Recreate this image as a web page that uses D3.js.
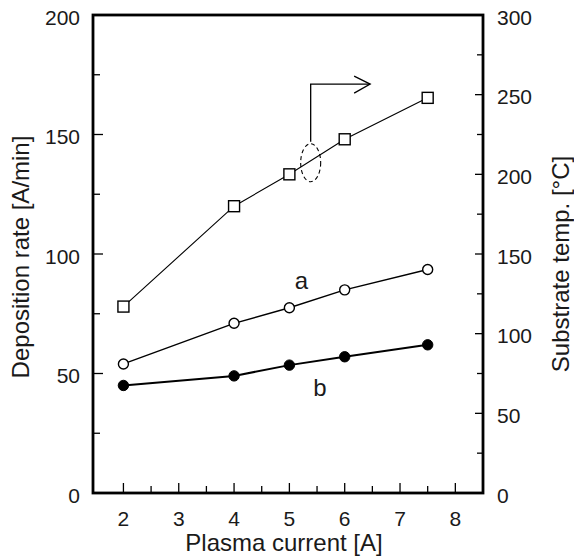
<!DOCTYPE html>
<html>
<head>
<meta charset="utf-8">
<script src="https://cdn.jsdelivr.net/npm/d3@7"></script>
<style>
  html, body { margin: 0; padding: 0; background: #fff; }
  svg { display: block; }
  text { font-family: "Liberation Sans", Arial, sans-serif; fill: #1a1a1a; }
</style>
</head>
<body>
<div id="chart"></div>
<script>
// ---- data ----
const current = [2, 4, 5, 6, 7.5];                 // Plasma current [A]
const rateA = [54, 71, 77.5, 85, 93.5];            // Deposition rate, series a (open circles)
const rateB = [45, 49, 53.5, 57, 62];              // Deposition rate, series b (filled circles)
const substrateTemp = [117, 180, 200, 222, 248];   // Substrate temp [°C] (squares, right axis)
const xTicks = [2, 3, 4, 5, 6, 7, 8];
const leftTicks = [0, 50, 100, 150, 200];
const rightTicks = [0, 50, 100, 150, 200, 250, 300];

const W = 574, H = 560;
const plot = { left: 93, right: 483, top: 15, bottom: 493 };

const svg = d3.select("#chart").append("svg").attr("width", W).attr("height", H);

const x = d3.scaleLinear().domain([1.45, 8.5]).range([plot.left, plot.right]);
const yL = d3.scaleLinear().domain([0, 200]).range([plot.bottom, plot.top]);
const yR = d3.scaleLinear().domain([0, 300]).range([plot.bottom, plot.top]);

// ---- ticks (inward) ----
const tickG = svg.append("g").attr("stroke", "#000").attr("stroke-width", 1.3);
d3.range(2, 8.01, 0.5).forEach(v => {
  const major = Number.isInteger(v);
  tickG.append("line").attr("x1", x(v)).attr("x2", x(v))
    .attr("y1", plot.bottom).attr("y2", plot.bottom - (major ? 10 : 7));
});
d3.range(25, 200, 25).forEach(v => {
  const major = v % 50 === 0;
  tickG.append("line").attr("x1", plot.left).attr("x2", plot.left + (major ? 10 : 7))
    .attr("y1", yL(v)).attr("y2", yL(v));
});
d3.range(25, 300, 25).forEach(v => {
  const major = v % 50 === 0;
  tickG.append("line").attr("x1", plot.right).attr("x2", plot.right - (major ? 8 : 6))
    .attr("y1", yR(v)).attr("y2", yR(v));
});

// ---- frame ----
svg.append("rect")
  .attr("x", plot.left).attr("y", plot.top)
  .attr("width", plot.right - plot.left).attr("height", plot.bottom - plot.top)
  .attr("fill", "none").attr("stroke", "#000").attr("stroke-width", 2.8);

// ---- tick labels ----
const fs = 21;
svg.append("g").selectAll("text").data(xTicks).join("text")
  .attr("x", d => x(d)).attr("y", 526)
  .attr("text-anchor", "middle").attr("font-size", fs).text(d => d);
svg.append("g").selectAll("text").data(leftTicks).join("text")
  .attr("x", 80).attr("y", d => yL(d) + 4)
  .attr("dominant-baseline", "middle")
  .attr("text-anchor", "end").attr("font-size", fs).text(d => d);
svg.append("g").selectAll("text").data(rightTicks).join("text")
  .attr("x", 497).attr("y", d => yR(d) + 4)
  .attr("dominant-baseline", "middle")
  .attr("text-anchor", "start").attr("font-size", fs).text(d => d);

// ---- axis titles ----
svg.append("text").attr("x", 284).attr("y", 551)
  .attr("text-anchor", "middle").attr("font-size", 24).text("Plasma current [A]");
svg.append("text")
  .attr("transform", `translate(29,${(plot.top + plot.bottom) / 2 + 3}) rotate(-90)`)
  .attr("text-anchor", "middle").attr("font-size", 24).text("Deposition rate [A/min]");
svg.append("text")
  .attr("transform", `translate(569,${(plot.top + plot.bottom) / 2 + 10}) rotate(-90)`)
  .attr("text-anchor", "middle").attr("font-size", 24).text("Substrate temp. [°C]");

// ---- lines ----
const lineL = d3.line().x((d, i) => x(current[i])).y(d => yL(d));
const lineR = d3.line().x((d, i) => x(current[i])).y(d => yR(d));

svg.append("path").datum(substrateTemp).attr("d", lineR)
  .attr("fill", "none").attr("stroke", "#000").attr("stroke-width", 1.1);
svg.append("path").datum(rateA).attr("d", lineL)
  .attr("fill", "none").attr("stroke", "#000").attr("stroke-width", 1.4);
svg.append("path").datum(rateB).attr("d", lineL)
  .attr("fill", "none").attr("stroke", "#000").attr("stroke-width", 2);

// ---- markers ----
const sq = 11;
svg.append("g").selectAll("rect").data(substrateTemp).join("rect")
  .attr("x", (d, i) => x(current[i]) - sq / 2).attr("y", d => yR(d) - sq / 2)
  .attr("width", sq).attr("height", sq)
  .attr("fill", "#fff").attr("stroke", "#000").attr("stroke-width", 1.4);
svg.append("g").selectAll("circle").data(rateA).join("circle")
  .attr("cx", (d, i) => x(current[i])).attr("cy", d => yL(d)).attr("r", 5)
  .attr("fill", "#fff").attr("stroke", "#000").attr("stroke-width", 1.4);
svg.append("g").selectAll("circle").data(rateB).join("circle")
  .attr("cx", (d, i) => x(current[i])).attr("cy", d => yL(d)).attr("r", 5.2)
  .attr("fill", "#000").attr("stroke", "#000").attr("stroke-width", 1);

// ---- annotations ----
svg.append("text").attr("x", x(5.22)).attr("y", yL(85.5))
  .attr("text-anchor", "middle").attr("font-size", 24).text("a");
svg.append("text").attr("x", x(5.55)).attr("y", yL(40.5))
  .attr("text-anchor", "middle").attr("font-size", 24).text("b");

// dashed ellipse marking the substrate-temp curve + arrow to right axis
const ex = x(5.385), ey = yL(138.2);
svg.append("ellipse").attr("cx", ex).attr("cy", ey).attr("rx", 10).attr("ry", 19)
  .attr("fill", "none").attr("stroke", "#000").attr("stroke-width", 1.1)
  .attr("stroke-dasharray", "4,3");
const ay = yL(171.1), ax2 = x(6.46);
svg.append("path")
  .attr("d", `M${ex},${yL(147)} L${ex},${ay} L${ax2},${ay}`)
  .attr("fill", "none").attr("stroke", "#000").attr("stroke-width", 1.3);
svg.append("path")
  .attr("d", `M${ax2 - 16},${ay - 8} L${ax2},${ay} L${ax2 - 16},${ay + 9}`)
  .attr("fill", "none").attr("stroke", "#000").attr("stroke-width", 1.3);
</script>
</body>
</html>
